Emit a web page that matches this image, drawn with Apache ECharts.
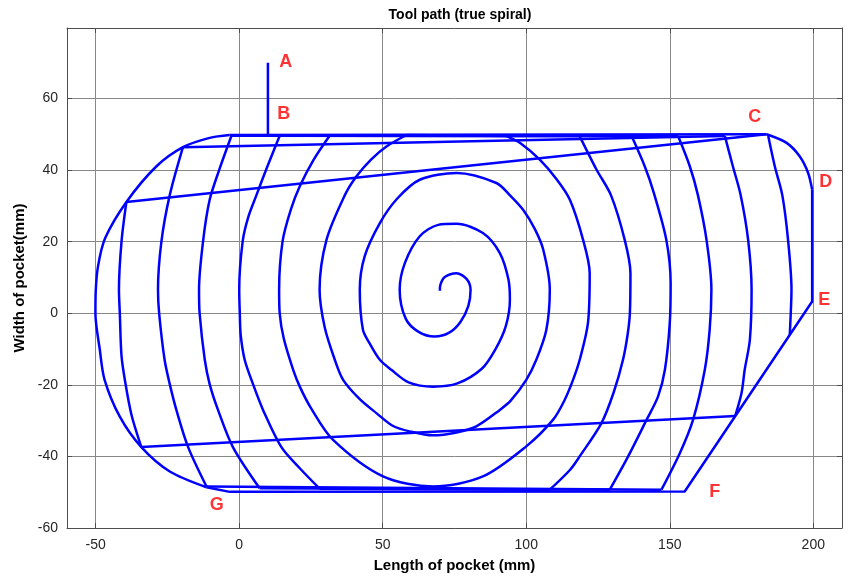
<!DOCTYPE html>
<html>
<head>
<meta charset="utf-8">
<title>Tool path (true spiral)</title>
<script src="https://cdn.jsdelivr.net/npm/echarts@6.0.0/dist/echarts.min.js"></script>
<style>
  html, body { margin: 0; padding: 0; background: #fff; }
  #chart { width: 850px; height: 583px; }
</style>
</head>
<body>
<div id="chart"></div>
<script>
// axis ticks
const xTicks = [-50, 0, 50, 100, 150, 200];
const yTicks = [-60, -40, -20, 0, 20, 40, 60];

// point labels A..G
const labelNames = ['A', 'B', 'C', 'D', 'E', 'F', 'G'];
const labelPoints = [[16.2, 70.3], [15.5, 55.8], [179.6, 54.7], [204.3, 36.8], [203.8, 3.8], [165.7, -49.9], [-7.8, -53.5]];

// pocket contour
const plunge = [[10, 70], [10, 50]];
const contourTop = [[-3.3, 49.8], [183.7, 50]];
const cornerCD = [[183.7, 50], [190.7, 47.6], [195.3, 43.8], [198.2, 39.2], [199.6, 34.5]];
const contourRight = [[199.6, 34.5], [199.6, 3.3], [155.2, -49.8], [-3.3, -49.9], [-11.4, -48.6]];
const contourLeft = [[-11.4, -48.6], [-24.2, -44.2], [-34.1, -37.4], [-41.6, -28.9], [-46.9, -18.6],
  [-48.6, -10], [-50.1, 0], [-50.0, 6], [-49.2, 13.1], [-46.7, 21], [-39.3, 31.1], [-28.9, 41],
  [-19.6, 46.4], [-10.3, 49], [-3.3, 49.8]];

// spiral, inner part (from the centre out to the top edge)
const spiralCore = [[69.9, 6.3], [70.1, 8.0], [71.6, 10.1], [75.7, 11.2], [79.2, 9.6], [80.6, 6.6],
  [79.8, 2.0], [77, -2.5], [73, -5.5], [68.1, -6.5], [62.5, -5.2], [58, -1.5], [55.9, 6.6], [57.7, 14.0],
  [62.9, 21.5], [69.3, 24.7], [75.7, 25.0], [84.9, 22.4], [90.8, 16.8], [93.8, 9.4], [94.3, 3.8],
  [92.9, -3.5], [89.3, -10], [84.5, -15.5], [76, -19.6], [67.5, -20.5], [59, -19.3], [53, -15.8],
  [49, -13], [45.5, -8.5], [43.1, -4.6], [42, 6.6], [43.7, 15.9], [49, 25.2], [55, 32], [62.9, 37.3],
  [75.7, 39.2], [89.6, 36.4], [94.5, 32.8], [98.9, 28.9], [103, 23.5], [105.9, 17.8], [108.2, 6.6], [107, -4.6],
  [103.5, -13], [100, -18.6], [94.5, -24.5], [90.8, -27], [82.6, -31.6], [75.7, -33.3], [67.5, -34.1],
  [59.4, -33], [53.6, -31.5], [47.8, -27.9], [42, -24], [36.2, -18.6], [33.3, -13], [29.8, -4],
  [28, 6.6], [30.4, 20.5], [36.8, 33], [40.8, 38.2], [46, 43], [51.3, 46.6], [58.3, 49.8]];

// clipped spiral arcs
const arcR122 = [[93.1, 49.5], [98, 47.5], [104.7, 42.9], [110.5, 37.5], [115.2, 31.7], [119.8, 20.5],
  [122.1, 11.2], [121.5, -2.7], [118.8, -12.5], [116.3, -18.6], [113.2, -24.5], [109.3, -29.8], [100, -37.2],
  [84.9, -45.6], [67.5, -48.4], [50.1, -45.6], [32.7, -35.4], [25, -26.5], [21.1, -20.5],
  [18.8, -15.8], [15.5, -7], [14.1, 0], [13.9, 6.6], [15.1, 20.1], [18, 29], [21.1, 35.5],
  [26, 43], [31.5, 49.6]];
const arcR136 = [[118.6, 49.5], [124.5, 40.1], [129.5, 33], [134.3, 20.5], [136.3, 11.2], [136.1, 0],
  [135.3, -6], [133.7, -13], [130.5, -22], [126.2, -30.7], [118.6, -40], [115.2, -43.8], [108.2, -49.3]];
const arcL0 = [[28, -49], [21.1, -43.3], [14.7, -37.4], [8.3, -27], [4.8, -19.8], [1.9, -13], [0.5, -6],
  [0.2, 0], [0, 6.6], [1.2, 20.1], [3.2, 27], [6, 33], [9.8, 41], [14.1, 49.6]];
const arcR150 = [[136.7, 49.5], [141.3, 41], [144.5, 33.5], [148.8, 20.5], [150.3, 8.4], [150, -2.7],
  [148.3, -15.8], [145.9, -23.3], [141.9, -29.8], [135.5, -40], [129.1, -49.3]];
const arcL14 = [[7.1, -48.9], [-2.2, -37.4], [-7.4, -27], [-10.3, -19.8], [-12, -13], [-13.8, 0],
  [-14, 6.6], [-12.6, 20.1], [-10.3, 31.7], [-7, 40], [-2.7, 49.6]];
const arcR164 = [[152.9, 49.5], [157, 41], [159.8, 33], [162.8, 20.5], [164.5, 6.6], [163.9, -4.6],
  [162.2, -15.8], [158.1, -29.8], [153.5, -39.1], [147.1, -49.3]];
const arcL28 = [[-11.4, -48.4], [-17.8, -37.4], [-21.9, -27], [-24.2, -19.8], [-26, -13], [-27.9, 0],
  [-28.3, 6.6], [-27.1, 20.1], [-24.2, 33], [-19.6, 46.4]];
const arcR178 = [[169.2, 49.5], [172, 41], [174.7, 33], [177.3, 20.5], [178.5, 6.6], [177.9, -7.4],
  [176.1, -15.8], [175, -22.3], [172.8, -28.7]];
const arcL42 = [[-34.1, -37.4], [-37.5, -28.5], [-39.6, -19.8], [-41, -12], [-41.6, 0], [-41.9, 6.6],
  [-41, 20.1], [-39.3, 31.1]];
const arcR192 = [[184.3, 49.5], [186.6, 41], [189.2, 33], [191.2, 20.5], [192.4, 6.6], [192, -2.7], [191.8, -6]];

// straight runs along the edges and link moves
const runs = [
  [[58.3, 49.8], [93.1, 49.5]],
  [[31.5, 49.6], [118.6, 49.5]],
  [[108.2, -49.3], [28, -49]],
  [[14.1, 49.6], [136.7, 49.5]],
  [[129.1, -49.3], [7.1, -48.9]],
  [[-2.7, 49.6], [152.9, 49.5]],
  [[147.1, -49.3], [-11.4, -48.4]],
  [[-19.6, 46.4], [169.2, 49.5]],
  [[172.8, -28.7], [-34.1, -37.4]],
  [[-39.3, 31.1], [183.7, 50]]
];

const curved = [cornerCD, contourLeft, spiralCore, arcR122, arcR136, arcL0, arcR150, arcL14,
  arcR164, arcL28, arcR178, arcL42, arcR192];
const straight = [plunge, contourTop, contourRight].concat(runs);

const FONT = 'Liberation Sans, Arial, Helvetica, sans-serif';
const BLUE = '#0000ff';

const pathSeries = (data, smooth) => ({
  type: 'line',
  data: data,
  smooth: smooth,
  showSymbol: false,
  symbol: 'none',
  silent: true,
  lineStyle: { color: BLUE, width: 2.5 },
  z: 3
});

const chart = echarts.init(document.getElementById('chart'), null, { renderer: 'canvas' });

const boxAxis = (pos, vals) => ({
  position: pos,
  axisLine: { show: true, onZero: false, lineStyle: { color: '#4d4d4d', width: 1 } },
  axisTick: { show: true, inside: true, length: 5, customValues: vals, lineStyle: { color: '#4d4d4d' } },
  axisLabel: { show: false },
  splitLine: { show: false }
});

chart.setOption({
  animation: false,
  backgroundColor: '#fff',
  title: {
    text: 'Tool path (true spiral)',
    left: 455,
    top: 3,
    textAlign: 'center',
    textStyle: { fontFamily: FONT, fontSize: 14, fontWeight: 'bold', color: '#000' }
  },
  grid: { left: 67, right: 8, top: 28, bottom: 55 },
  xAxis: [
    {
      type: 'value', min: -60, max: 210,
      position: 'bottom',
      name: 'Length of pocket (mm)',
      nameLocation: 'middle',
      nameGap: 30,
      nameTextStyle: { fontFamily: FONT, fontSize: 15, fontWeight: 'bold', color: '#000' },
      axisLine: { show: true, onZero: false, lineStyle: { color: '#4d4d4d', width: 1 } },
      axisTick: { show: true, inside: true, length: 5, customValues: xTicks, lineStyle: { color: '#4d4d4d' } },
      axisLabel: { customValues: xTicks, margin: 10, fontFamily: FONT, fontSize: 14, color: '#262626' },
      splitLine: { show: true, lineStyle: { color: '#888', width: 1 } }
    },
    Object.assign({ type: 'value', min: -60, max: 210 }, boxAxis('top', xTicks))
  ],
  yAxis: [
    {
      type: 'value', min: -60, max: 79.7,
      position: 'left',
      name: 'Width of pocket(mm)',
      nameLocation: 'middle',
      nameGap: 38,
      nameTextStyle: { fontFamily: FONT, fontSize: 15, fontWeight: 'bold', color: '#000' },
      axisLine: { show: true, onZero: false, lineStyle: { color: '#4d4d4d', width: 1 } },
      axisTick: { show: true, inside: true, length: 5, customValues: yTicks, lineStyle: { color: '#4d4d4d' } },
      axisLabel: { customValues: yTicks, margin: 9, fontFamily: FONT, fontSize: 14, color: '#262626' },
      splitLine: { show: true, lineStyle: { color: '#888', width: 1 } }
    },
    Object.assign({ type: 'value', min: -60, max: 79.7 }, boxAxis('right', yTicks))
  ],
  series: curved.map(d => pathSeries(d, 0.3))
    .concat(straight.map(d => pathSeries(d, false)))
    .concat([{
      type: 'scatter',
      data: labelPoints.map((p, i) => ({ value: p, name: labelNames[i] })),
      symbolSize: 1,
      itemStyle: { color: 'rgba(0,0,0,0)' },
      silent: true,
      z: 5,
      label: {
        show: true,
        position: 'inside',
        formatter: p => p.name,
        fontFamily: FONT,
        fontSize: 18,
        fontWeight: 'bold',
        color: '#ff0000'
      }
    }])
});
</script>
</body>
</html>
